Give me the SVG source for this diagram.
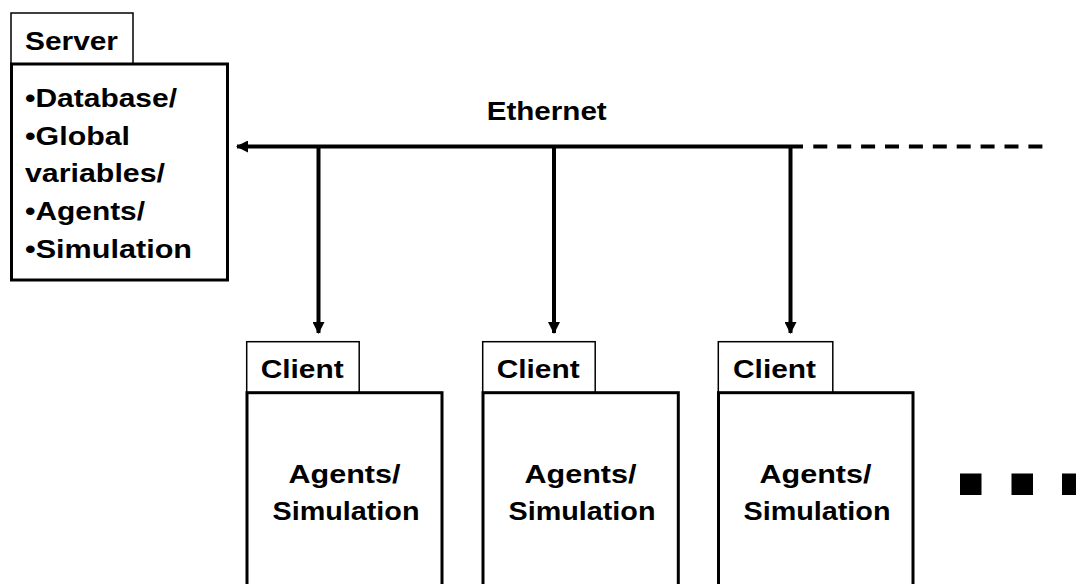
<svg xmlns="http://www.w3.org/2000/svg" width="1076" height="584" viewBox="0 0 1076 584">
  <defs>
    <style>
      text { font-family: "Liberation Sans", Arial, sans-serif; font-weight: bold; font-size: 25px; fill: #000; }
      .tab { fill: #fff; stroke: #000; stroke-width: 1.5; }
      .box { fill: #fff; stroke: #000; stroke-width: 3; }
      .wire { fill: none; stroke: #000; stroke-width: 4; }
      .dash { fill: none; stroke: #000; stroke-width: 4; stroke-dasharray: 14 9.9; }
      .mid { text-anchor: middle; }
    </style>
    <marker id="arr" viewBox="0 0 12 12" refX="11" refY="6" markerWidth="12" markerHeight="12" markerUnits="userSpaceOnUse" orient="auto">
      <path d="M0,0 L12,6 L0,12 Z" fill="#000"/>
    </marker>
  </defs>
  <rect width="1076" height="584" fill="#fff"/>

  <g id="connectors">
    <line class="wire" x1="803" y1="146.5" x2="237" y2="146.5" marker-end="url(#arr)"/>
    <line class="dash" x1="813.3" y1="146.5" x2="1043" y2="146.5"/>
    <line class="wire" x1="318.5" y1="146.5" x2="318.5" y2="333" marker-end="url(#arr)"/>
    <line class="wire" x1="554" y1="146.5" x2="554" y2="333" marker-end="url(#arr)"/>
    <line class="wire" x1="790.5" y1="146.5" x2="790.5" y2="333" marker-end="url(#arr)"/>
    <text x="546.7" y="120" class="mid" textLength="120" lengthAdjust="spacingAndGlyphs">Ethernet</text>
  </g>

  <g id="server">
    <rect class="tab" x="11" y="13" width="122" height="51"/>
    <text x="25" y="50" textLength="93" lengthAdjust="spacingAndGlyphs">Server</text>
    <rect class="box" x="11.5" y="64" width="216" height="216"/>
    <text x="25" y="107" textLength="152" lengthAdjust="spacingAndGlyphs">•Database/</text>
    <text x="25" y="145" textLength="105" lengthAdjust="spacingAndGlyphs">•Global</text>
    <text x="25" y="182" textLength="140" lengthAdjust="spacingAndGlyphs">variables/</text>
    <text x="25" y="220" textLength="120" lengthAdjust="spacingAndGlyphs">•Agents/</text>
    <text x="25" y="258" textLength="167" lengthAdjust="spacingAndGlyphs">•Simulation</text>
  </g>

  <g id="client1">
    <rect class="tab" x="246.7" y="341.7" width="112.5" height="51"/>
    <text x="260.7" y="378" textLength="83" lengthAdjust="spacingAndGlyphs">Client</text>
    <rect class="box" x="247" y="392.7" width="195" height="220"/>
    <text x="344.5" y="483" class="mid" textLength="112" lengthAdjust="spacingAndGlyphs">Agents/</text>
    <text x="346" y="520" class="mid" textLength="147" lengthAdjust="spacingAndGlyphs">Simulation</text>
  </g>

  <g id="client2">
    <rect class="tab" x="482.7" y="341.7" width="112.5" height="51"/>
    <text x="496.7" y="378" textLength="83" lengthAdjust="spacingAndGlyphs">Client</text>
    <rect class="box" x="483" y="392.7" width="195.3" height="220"/>
    <text x="580.5" y="483" class="mid" textLength="112" lengthAdjust="spacingAndGlyphs">Agents/</text>
    <text x="582" y="520" class="mid" textLength="147" lengthAdjust="spacingAndGlyphs">Simulation</text>
  </g>

  <g id="client3">
    <rect class="tab" x="718.3" y="341.7" width="114.5" height="51"/>
    <text x="733" y="378" textLength="83" lengthAdjust="spacingAndGlyphs">Client</text>
    <rect class="box" x="718.5" y="392.7" width="194.5" height="220"/>
    <text x="815.5" y="483" class="mid" textLength="112" lengthAdjust="spacingAndGlyphs">Agents/</text>
    <text x="817" y="520" class="mid" textLength="147" lengthAdjust="spacingAndGlyphs">Simulation</text>
  </g>

  <g id="ellipsis">
    <rect x="960" y="473.5" width="21.5" height="21.5" fill="#000"/>
    <rect x="1011.5" y="473.5" width="21.5" height="21.5" fill="#000"/>
    <rect x="1062" y="473.5" width="21.5" height="21.5" fill="#000"/>
  </g>
</svg>
